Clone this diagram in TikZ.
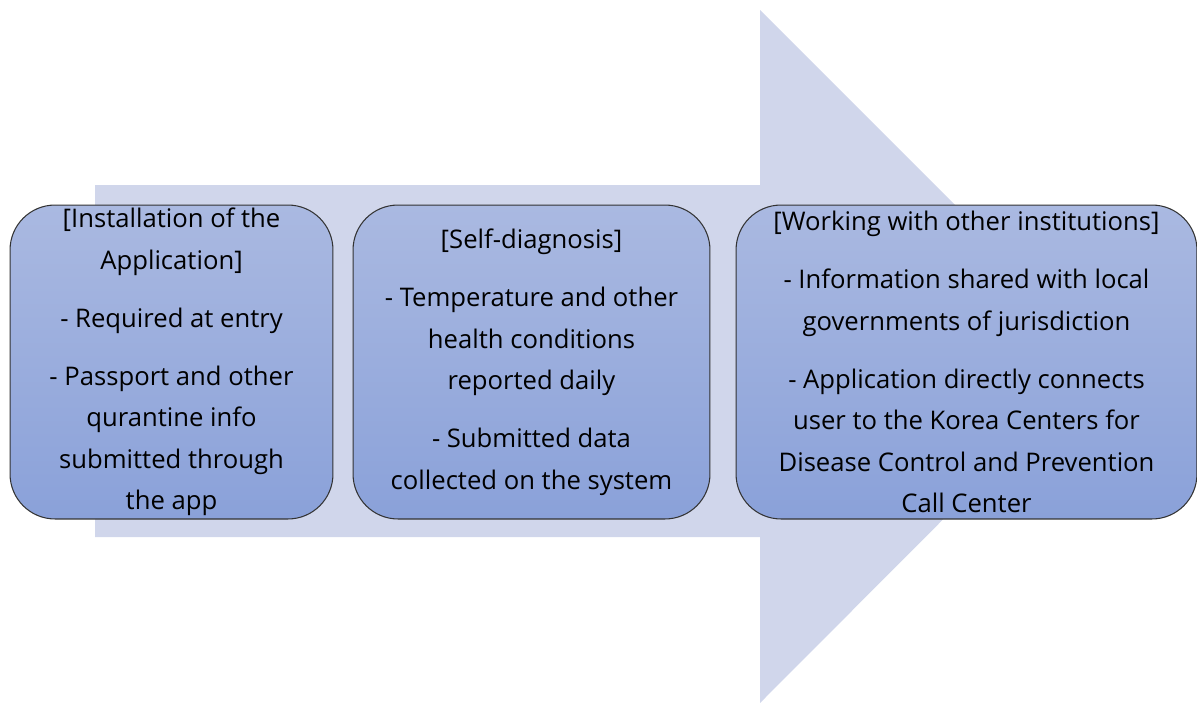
\documentclass[tikz,border=0pt]{standalone}
\usepackage{fontspec}
\setmainfont{Open Sans}
\usepackage{tikz}
\usetikzlibrary{shapes.geometric}

\begin{document}
\begin{tikzpicture}
			[x=0.02cm,y=-0.02cm,line cap=round,
			%Styles
			stage box/.style={draw=black!80,line width=0.6pt,rounded corners=0.9cm,
				top color=boxtop,bottom color=boxbottom,
				align=center,font=\fontsize{14.6}{23.6}\selectfont,inner sep=0pt},
			big arrow/.style={fill=arrowfill,draw=none}
			]
			
			%Colors
			\definecolor{arrowfill}{HTML}{D0D6EB}
			\definecolor{boxtop}{HTML}{AAB9E1}
			\definecolor{boxbottom}{HTML}{8AA1D9}
			
			\useasboundingbox (0,0) rectangle (1197,703);
			
			%The graphic
			\fill[big arrow] (95,185) -- (760,185) -- (760,10) -- (1106,356)
				-- (760,703) -- (760,537) -- (95,537) -- cycle;
			
			\node[stage box,minimum width=6.46cm,minimum height=6.28cm] (install) at (171.5,362)
				{[Installation of the\\Application]\\[9.5pt]- Required at entry\\[9.5pt]- Passport and other\\qurantine info\\submitted through\\the app};
			\node[stage box,minimum width=7.14cm,minimum height=6.28cm] (diagnose) at (531.5,362)
				{[Self-diagnosis]\\[9.5pt]- Temperature and other\\health conditions\\reported daily\\[9.5pt]- Submitted data\\collected on the system};
			\node[stage box,minimum width=9.22cm,minimum height=6.28cm] (institute) at (966.5,362)
				{[Working with other institutions]\\[9.5pt]- Information shared with local\\governments of jurisdiction\\[9.5pt]- Application directly connects\\user to the Korea Centers for\\Disease Control and Prevention\\Call Center};
		\end{tikzpicture}
\end{document}
